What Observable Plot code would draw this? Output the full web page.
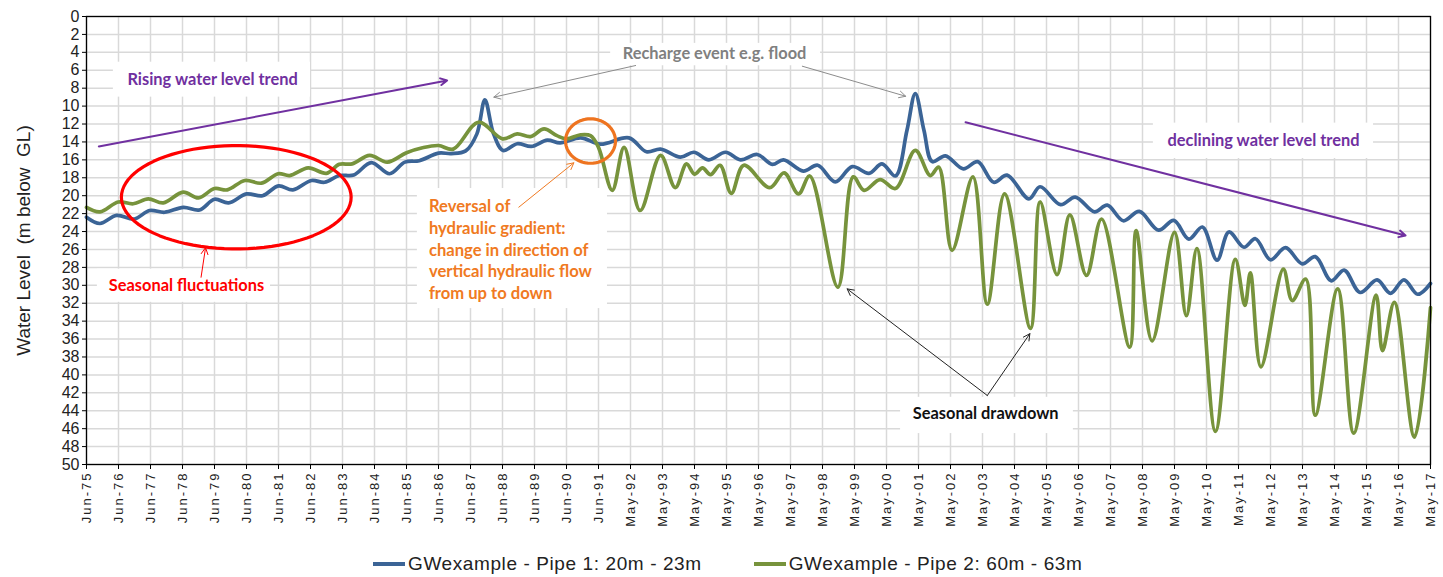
<!DOCTYPE html>
<html><head><meta charset="utf-8">
<script src="https://cdn.jsdelivr.net/npm/d3@7"></script>
<script src="https://cdn.jsdelivr.net/npm/@observablehq/plot@0.6"></script>
<style>
html,body{margin:0;padding:0;background:#fff;width:1443px;height:577px;overflow:hidden;}
#chart{position:relative;width:1443px;height:577px;}
.legend{position:absolute;top:553px;left:373px;display:flex;align-items:center;font-family:"Liberation Sans",Arial,sans-serif;font-size:19px;letter-spacing:0.6px;color:#222;white-space:nowrap;}
.item{display:flex;align-items:center;margin-right:52px;}
.sw{width:32px;height:4px;margin-right:3px;}
</style></head>
<body><div id="chart"></div>
<script>
// ---- tick labels (one per year position on the axis) ----
const xTickLabels = ["Jun-75","Jun-76","Jun-77","Jun-78","Jun-79","Jun-80","Jun-81","Jun-82","Jun-83","Jun-84","Jun-85","Jun-86","Jun-87","Jun-88","Jun-89","Jun-90","Jun-91",
  "May-92","May-93","May-94","May-95","May-96","May-97","May-98","May-99","May-00","May-01","May-02","May-03","May-04","May-05","May-06","May-07","May-08","May-09","May-10","May-11","May-12","May-13","May-14","May-15","May-16","May-17"];
const yTicks = d3.range(0, 51, 2);
const seriesNames = ["GWexample - Pipe 1: 20m - 23m", "GWexample - Pipe 2: 60m - 63m"];
const seriesColors = ["#3B6496", "#77933C"];

// ---- Pipe 1 (time in years from Jun-75 on the axis, water level m below GL) ----
const pipe1T = [0,0.42,0.94,1.5,1.97,2.44,3.03,3.53,4.0,4.44,5.0,5.5,6.0,6.45,7.03,7.44,7.9,8.35,8.9,9.47,9.95,10.4,11.0,11.4,11.85,12.2,12.45,12.72,13.02,13.46,13.9,14.4,14.8,15.44,16.06,16.95,17.5,17.94,18.56,18.98,19.45,19.97,20.44,20.96,21.43,21.78,22.4,22.85,23.4,23.93,24.45,24.86,25.28,25.64,25.9,26.17,26.43,26.84,27.4,27.85,28.35,28.77,29.45,29.8,30.44,30.9,31.5,31.9,32.4,32.9,33.5,33.98,34.45,34.87,35.33,35.7,36.17,36.53,37.0,37.47,37.99,38.4,38.9,39.3,39.8,40.33,40.75,41.17,41.6,42];
const pipe1Level = [22.4,23.1,22.2,22.6,21.65,21.85,21.3,21.6,20.4,20.8,19.8,20.0,18.9,19.35,18.3,18.5,17.75,17.7,16.3,17.55,16.25,16.1,15.25,15.3,15.0,13.1,9.3,13.1,14.95,14.2,14.5,13.8,14.1,13.55,14.25,13.55,15.1,14.8,15.7,15.15,16.0,15.15,16.0,15.4,16.5,16.0,17.25,16.6,18.45,16.75,17.5,16.45,17.8,12.7,8.6,12.7,16.2,15.55,17.0,16.2,18.5,17.7,20.35,19.0,21.0,20.15,21.8,21.05,22.8,21.75,23.85,22.75,24.85,23.5,27.2,24.05,25.75,24.8,27.15,25.8,27.6,26.8,29.5,28.3,30.8,29.4,30.9,29.4,31.0,29.8];

// ---- Pipe 2 ----
const pipe2T = [0,0.42,0.99,1.46,1.93,2.4,3.02,3.5,4.0,4.4,4.95,5.47,5.99,6.35,6.93,7.5,7.9,8.3,8.85,9.4,10.0,10.5,11.0,11.46,12.25,13.0,13.46,13.875,14.3,14.7,15.0,15.44,15.75,16.0,16.43,16.8,17.3,17.94,18.4,18.75,19.0,19.25,19.5,19.8,20.15,20.54,21.35,21.8,22.25,22.6,23.48,23.96,24.3,24.8,25.28,25.9,26.37,26.63,27.05,27.7,28.15,28.69,29.5,29.8,30.33,30.73,31.25,31.72,32.6,32.8,33.3,34.0,34.37,34.7,35.28,35.9,36.2,36.37,36.7,37.4,37.68,38.1,38.4,39.1,39.6,40.3,40.5,40.87,41.5,42];
const pipe2Level = [21.3,21.8,20.7,20.9,20.35,20.8,19.6,20.25,19.2,19.35,18.3,18.6,17.55,17.75,16.9,17.5,16.5,16.45,15.5,16.25,15.2,14.65,14.4,14.8,11.8,13.65,13.1,13.4,12.55,13.3,13.65,13.2,13.3,14.6,19.4,14.6,21.65,15.5,19.1,16.45,17.6,16.9,17.65,16.6,19.75,16.6,19.1,17.45,19.8,17.8,30.2,17.9,19.4,18.2,19.2,14.95,17.75,16.8,26.1,17.9,32.1,19.8,34.8,20.7,28.8,22.15,28.9,22.6,36.9,23.9,36.2,24.1,33.4,25.9,46.3,27.1,32.25,28.6,39.1,28.2,31.7,29.3,44.5,30.4,46.5,31.1,37.3,31.9,46.95,32.5];

// ---- annotations (in axis units) ----
const noteBoxes = [
  {t1:0.84, t2:7.0, v1:5.1, v2:9.0},
  {t1:0.34, t2:5.75, v1:28.2, v2:31.9},
  {t1:10.34, t2:16.28, v1:19.2, v2:32.6},
  {t1:16.38, t2:22.94, v1:3.0, v2:5.5},
  {t1:33.34, t2:40.22, v1:11.9, v2:15.85},
  {t1:25.44, t2:30.84, v1:42.5, v2:46.55}
];
const noteTexts = [
  {t:3.94, v:7.03, label:"Rising water level trend", color:"#7030A0"},
  {t:3.125, v:30.1, label:"Seasonal fluctuations", color:"#FF0000"},
  {t:19.625, v:4.13, label:"Recharge event e.g. flood", color:"#808080"},
  {t:36.78, v:13.92, label:"declining water level trend", color:"#7030A0"},
  {t:28.1, v:44.34, label:"Seasonal drawdown", color:"#111111"}
];
const orangeLines = ["Reversal of","hydraulic gradient:","change in direction of","vertical hydraulic flow","from up to down"];
const orangeLineV = [21.28, 23.69, 26.11, 28.53, 30.9];
const noteArrows = [
  {t1:0.385, v1:14.5, t2:11.27, v2:7.14, color:"#7030A0", w:2},
  {t1:27.47, v1:11.8, t2:41.22, v2:24.44, color:"#7030A0", w:2},
  {t1:3.58, v1:29.1, t2:3.72, v2:25.8, color:"#FF0000", w:1},
  {t1:17.16, v1:5.47, t2:12.73, v2:9.0, color:"#8C8C8C", w:1},
  {t1:22.37, v1:5.55, t2:25.6, v2:8.9, color:"#8C8C8C", w:1},
  {t1:13.51, v1:21.28, t2:15.23, v2:16.33, color:"#F07A22", w:1},
  {t1:28.15, v1:42.3, t2:23.77, v2:30.4, color:"#222222", w:1},
  {t1:28.15, v1:42.3, t2:29.48, v2:35.4, color:"#222222", w:1}
];
const ovals = [
  {ct:4.68, cv:20.17, rt:3.59, rv:5.77, color:"#FF0000"},
  {ct:15.75, cv:13.9, rt:0.78, rv:2.48, color:"#EE7420"}
];

// ---- build tables ----
const rows = [
  ...pipe1T.map((t, i) => ({t, v: pipe1Level[i], s: seriesNames[0]})),
  ...pipe2T.map((t, i) => ({t, v: pipe2Level[i], s: seriesNames[1]}))
];
const ovalPts = ovals.flatMap((o, k) => d3.range(0, 361, 4).map(a => ({
  k, color: o.color,
  t: o.ct + o.rt * Math.cos(a * Math.PI / 180),
  v: o.cv + o.rv * Math.sin(a * Math.PI / 180)
})));
const xTickIdx = d3.range(xTickLabels.length);
const FONT = '"Liberation Sans", Arial, sans-serif';
const NOTEFONT = 'Lato, "Open Sans", sans-serif';

const chart = Plot.plot({
  width: 1443, height: 540,
  marginTop: 16, marginBottom: 76, marginLeft: 86, marginRight: 13,
  style: {fontFamily: FONT, background: "#fff", color: "#222", overflow: "visible"},
  x: {type: "linear", domain: [0, 42]},
  y: {domain: [0, 50], reverse: true},
  color: {type: "identity"},
  marks: [
    Plot.gridX(xTickIdx, {stroke: "#d9d9d9", strokeOpacity: 1, strokeWidth: 1.5}),
    Plot.gridY(yTicks, {stroke: "#d9d9d9", strokeOpacity: 1, strokeWidth: 1.5}),
    Plot.rect(noteBoxes, {x1: "t1", x2: "t2", y1: "v1", y2: "v2", fill: "#fff"}),
    Plot.line(rows, {x: "t", y: "v", z: "s", stroke: d => d.s === seriesNames[0] ? seriesColors[0] : seriesColors[1], strokeWidth: 3.7, curve: "catmull-rom"}),
    Plot.line(ovalPts, {x: "t", y: "v", z: "k", stroke: "color", strokeWidth: 3.2, curve: "linear"}),
    Plot.arrow(noteArrows, {x1: "t1", y1: "v1", x2: "t2", y2: "v2", stroke: "color", strokeWidth: "w", headLength: 11, headAngle: 55}),
    Plot.text(noteTexts, {x: "t", y: "v", text: "label", fill: "color", fontSize: 16.4, fontWeight: "bold", fontFamily: NOTEFONT}),
    Plot.text(orangeLines, {x: () => 10.7, y: (d, i) => orangeLineV[i], text: d => d, fill: "#F07A22", fontSize: 16.6, fontWeight: "bold", textAnchor: "start", fontFamily: NOTEFONT}),
    Plot.axisY(yTicks, {anchor: "left", tickSize: 4, tickPadding: 3, fontSize: 16, label: null, stroke: "#000"}),
    Plot.axisX(xTickIdx, {anchor: "bottom", tickFormat: i => xTickLabels[i], tickRotate: -90, tickSize: 5, tickPadding: 2, fontSize: 13, label: null, stroke: "#000"}),
    Plot.frame({stroke: "#000", strokeWidth: 1.3}),
    Plot.text(["Water Level\u00a0 (m below\u00a0 GL)"], {frameAnchor: "left", dx: -63, rotate: -90, textAnchor: "middle", text: d => d, fontSize: 19, fill: "#222"})
  ]
});
const holder = document.getElementById("chart");
holder.appendChild(chart);
d3.select(chart).selectAll('g[aria-label="x-axis tick label"] text').style("letter-spacing", "2px");

// legend below the svg
const legend = document.createElement("div");
legend.className = "legend";
seriesNames.forEach((n, i) => {
  const it = document.createElement("div"); it.className = "item";
  const sw = document.createElement("div"); sw.className = "sw"; sw.style.background = seriesColors[i];
  const tx = document.createElement("span"); tx.textContent = n;
  it.appendChild(sw); it.appendChild(tx); legend.appendChild(it);
});
holder.appendChild(legend);
</script></body></html>
